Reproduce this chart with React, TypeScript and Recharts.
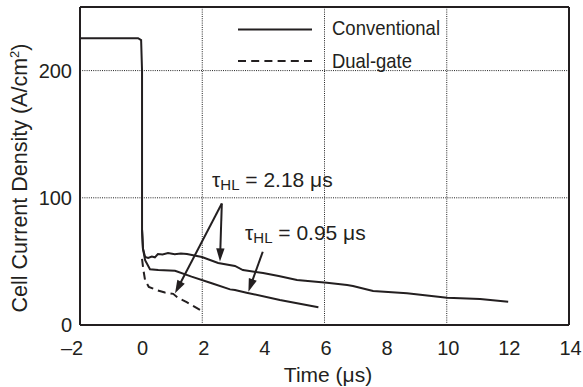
import React from 'react';
import { LineChart, Line, XAxis, YAxis, ReferenceLine } from 'recharts';

const xTicks = [-2, 0, 2, 4, 6, 8, 10, 12, 14];
const yTicks = [0, 100, 200];
const gridX = [2, 6, 10];
const gridY = [100, 200];

// Conventional (upper solid curve, tau_HL = 2.18 us)
const upperTime = [-2, -0.1, 0.0, 0.03, 0.03, 0.06, 0.13, 0.23, 0.35, 0.45, 0.55, 0.7, 0.88, 1.1, 1.3, 1.5, 1.66, 1.99, 2.52, 3.07, 3.33, 3.99, 4.5, 5.1, 6.08, 6.74, 6.93, 7.59, 8.7, 10.01, 11.09, 12.01];
const upperValue = [225.5, 225.5, 224, 200, 75, 60, 53.5, 52.7, 53.8, 53.2, 55.8, 55.5, 56.6, 55.6, 56.2, 55.8, 55, 53.5, 48.7, 46.4, 43.2, 40.9, 38.5, 35.4, 33.2, 31.4, 30.7, 26.7, 25.0, 21.4, 20.4, 18.2];

// Conventional (lower solid curve, tau_HL = 0.95 us)
const lowerTime = [0.03, 0.06, 0.13, 0.29, 0.56, 1.11, 1.65, 2.31, 2.91, 3.07, 3.45, 4.54, 5.8];
const lowerValue = [75, 60, 51, 43.8, 43.2, 42.7, 38, 32.8, 28, 27.5, 25.4, 19.7, 13.9];

// Dual-gate (dashed curve)
const dualTime = [0.03, 0.07, 0.13, 0.25, 0.5, 0.78, 1.05, 1.2, 1.49, 2.03];
const dualValue = [52, 44, 35, 30, 27.5, 25.5, 24.5, 21.5, 18, 10.5];

// Annotation arrows: [from t, from v, to t, to v]
const arrowSegments = [
  [2.64, 95.5, 1.11, 24.9],
  [2.64, 95.5, 2.58, 50],
  [3.98, 57.6, 3.51, 26.2],
];

const upperData = upperTime.map((t, i) => ({ t, v: upperValue[i] }));
const lowerData = lowerTime.map((t, i) => ({ t, v: lowerValue[i] }));
const dualData = dualTime.map((t, i) => ({ t, v: dualValue[i] }));

const INK = '#231f20';
const FONT = "'Liberation Sans', Arial, Helvetica, sans-serif";

const Arrow = (props: any) => {
  const { x1, y1, x2, y2 } = props;
  const dx = x2 - x1;
  const dy = y2 - y1;
  const len = Math.hypot(dx, dy) || 1;
  const ux = dx / len;
  const uy = dy / len;
  const hl = 13;
  const hw = 4.2;
  const bx = x2 - ux * hl;
  const by = y2 - uy * hl;
  return (
    <g>
      <line x1={x1} y1={y1} x2={bx + ux * 2} y2={by + uy * 2} stroke={INK} strokeWidth={2} />
      <polygon
        points={`${x2},${y2} ${bx - uy * hw},${by + ux * hw} ${bx + uy * hw},${by - ux * hw}`}
        fill={INK}
      />
    </g>
  );
};

const XTick = (props: any) => {
  const { x, y, payload } = props;
  const val = payload.value as number;
  const label = val < 0 ? '\u2013' + Math.abs(val) : String(val);
  return (
    <text x={x + (val < 0 ? -8 : 1.5)} y={y} dy="0.71em" textAnchor="middle" fontSize={20} fill={INK} fontFamily={FONT}>
      {label}
    </text>
  );
};

export default function App() {
  return (
    <div style={{ position: 'absolute', left: 0, top: 0, width: 583, height: 387, background: '#fff' }}>
      <LineChart width={583} height={387} margin={{ top: 7, right: 14, left: 0, bottom: 0 }}>
        <XAxis
          dataKey="t"
          type="number"
          domain={[-2, 14]}
          ticks={xTicks}
          interval={0}
          allowDataOverflow
          height={62}
          tickLine={false}
          tickSize={6}
          tickMargin={10}
          axisLine={{ stroke: INK, strokeWidth: 2 }}
          tick={<XTick />}
        />
        <YAxis
          type="number"
          domain={[0, 250]}
          ticks={yTicks}
          interval={0}
          allowDataOverflow
          width={80}
          tickLine={false}
          tickSize={6}
          tickMargin={2}
          axisLine={{ stroke: INK, strokeWidth: 2 }}
          tick={{ fontSize: 20, fill: INK, fontFamily: FONT }}
        />
        {gridX.map((g) => (
          <ReferenceLine key={'gx' + g} x={g} stroke="#222" strokeWidth={1} strokeDasharray="1 1.2" />
        ))}
        {gridY.map((g) => (
          <ReferenceLine key={'gy' + g} y={g} stroke="#222" strokeWidth={1} strokeDasharray="1 1.2" />
        ))}
        <ReferenceLine y={250} stroke={INK} strokeWidth={2} />
        <ReferenceLine x={14} stroke={INK} strokeWidth={2} />

        {/* white boxes behind texts */}
        <rect x={320} y={12} width={135} height={65} fill="#fff" />
        <rect x={209} y={167} width={128} height={25} fill="#fff" />
        <rect x={242} y={223} width={132} height={26} fill="#fff" />

        <Line data={upperData} dataKey="v" type="linear" stroke={INK} strokeWidth={2} dot={false} isAnimationActive={false} />
        <Line data={lowerData} dataKey="v" type="linear" stroke={INK} strokeWidth={2} dot={false} isAnimationActive={false} />
        <Line data={dualData} dataKey="v" type="linear" stroke={INK} strokeWidth={2} strokeDasharray="8 5" dot={false} isAnimationActive={false} />

        {arrowSegments.map((s, i) => (
          <ReferenceLine
            key={'ar' + i}
            segment={[{ x: s[0], y: s[1] }, { x: s[2], y: s[3] }]}
            shape={<Arrow />}
          />
        ))}

        {/* legend */}
        <line x1={238} y1={29.5} x2={312} y2={29.5} stroke={INK} strokeWidth={2} />
        <line x1={238} y1={61} x2={312} y2={61} stroke={INK} strokeWidth={2} strokeDasharray="8 5.2" />
        <text x={332} y={35} fontSize={21} fill={INK} fontFamily={FONT} textLength={108} lengthAdjust="spacingAndGlyphs">Conventional</text>
        <text x={332} y={68} fontSize={21} fill={INK} fontFamily={FONT} textLength={80} lengthAdjust="spacingAndGlyphs">Dual-gate</text>

        {/* annotations */}
        <text x={212} y={187} fontSize={21} fill={INK} fontFamily={FONT}>
          <tspan>τ</tspan>
          <tspan fontSize={15} dy={3}>HL</tspan>
          <tspan dy={-3}> = 2.18 μs</tspan>
        </text>
        <text x={245} y={240} fontSize={21} fill={INK} fontFamily={FONT}>
          <tspan>τ</tspan>
          <tspan fontSize={15} dy={3}>HL</tspan>
          <tspan dy={-3}> = 0.95 μs</tspan>
        </text>

        {/* axis titles */}
        <text x={328} y={382} textAnchor="middle" fontSize={21} fill={INK} fontFamily={FONT}>Time (μs)</text>
        <text
          x={0}
          y={0}
          transform="translate(27,178) rotate(-90)"
          textAnchor="middle"
          fontSize={21.5}
          fill={INK}
          fontFamily={FONT}
        >
          <tspan>Cell Current Density (A/cm</tspan>
          <tspan fontSize={13} dy={-8}>2</tspan>
          <tspan dy={8}>)</tspan>
        </text>
      </LineChart>
    </div>
  );
}
